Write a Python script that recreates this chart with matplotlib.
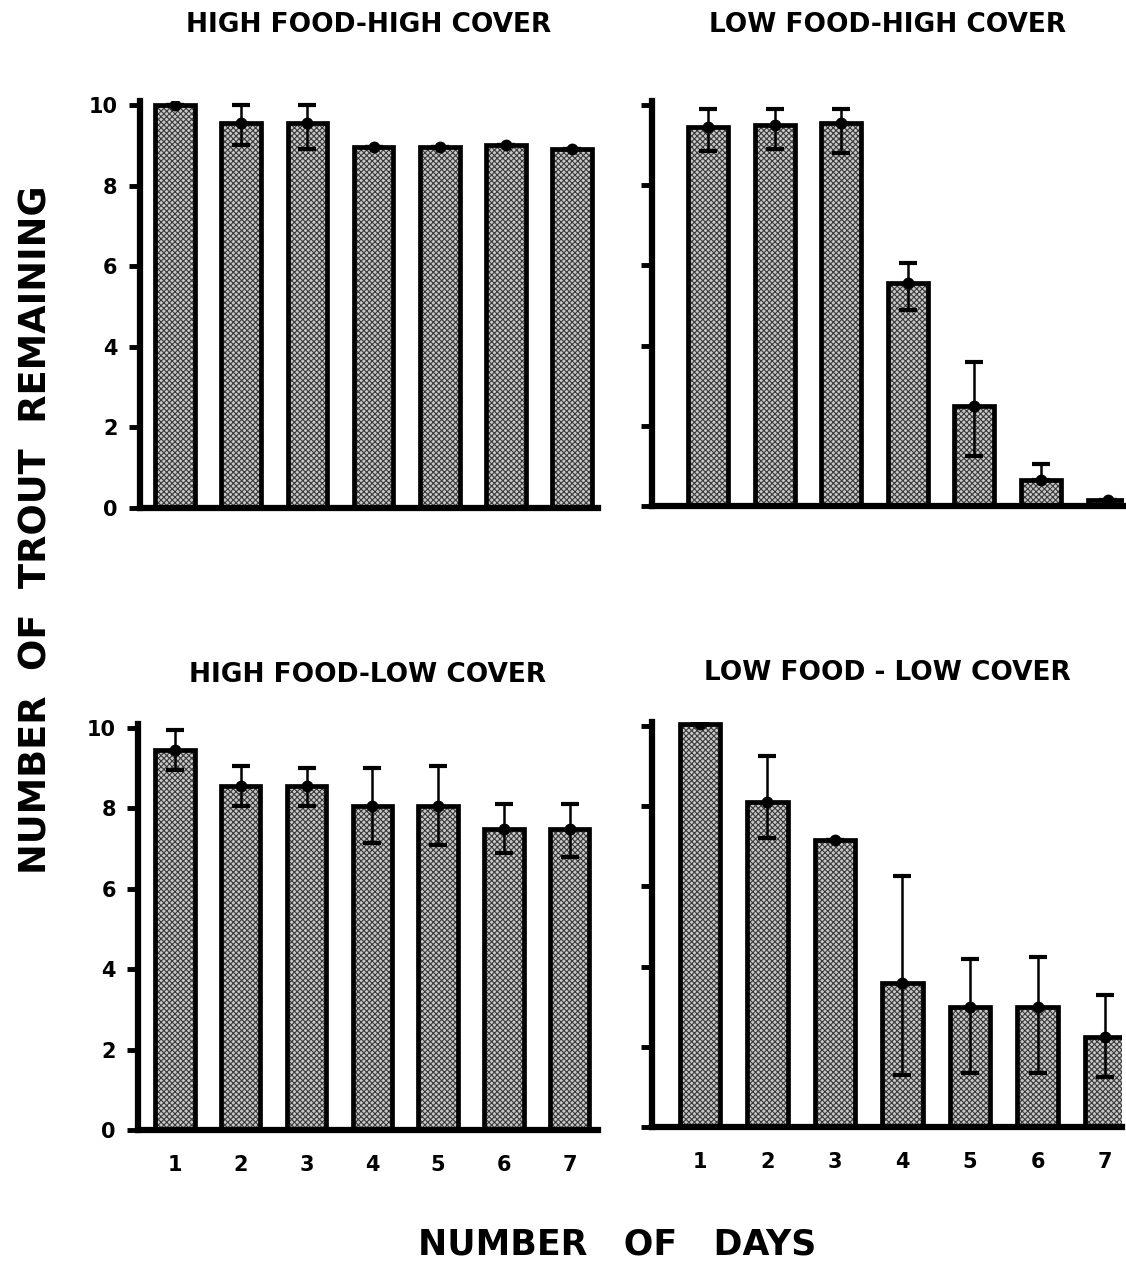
import matplotlib.pyplot as plt
import numpy as np

days = [1, 2, 3, 4, 5, 6, 7]

# mean trout remaining per day
hfhc_mean = [10.0, 9.55, 9.55, 8.95, 8.95, 9.0, 8.9]
hfhc_lo = [0, 0.55, 0.65, 0, 0, 0, 0]
hfhc_hi = [0, 0.45, 0.45, 0, 0, 0, 0]

lfhc_mean = [9.45, 9.5, 9.55, 5.55, 2.5, 0.65, 0.15]
lfhc_lo = [0.6, 0.6, 0.75, 0.65, 1.25, 0, 0]
lfhc_hi = [0.45, 0.4, 0.35, 0.5, 1.1, 0.4, 0]

hflc_mean = [9.45, 8.55, 8.55, 8.05, 8.05, 7.5, 7.5]
hflc_lo = [0.5, 0.5, 0.5, 0.9, 0.95, 0.6, 0.7]
hflc_hi = [0.5, 0.5, 0.45, 0.95, 1.0, 0.6, 0.6]

lflc_mean = [10.05, 8.1, 7.15, 3.6, 3.0, 3.0, 2.25]
lflc_lo = [0, 0.9, 0, 2.3, 1.65, 1.65, 1.0]
lflc_hi = [0, 1.15, 0, 2.65, 1.2, 1.25, 1.05]

titles = ["HIGH FOOD-HIGH COVER", "LOW FOOD-HIGH COVER",
          "HIGH FOOD-LOW COVER", "LOW FOOD - LOW COVER"]
yticks = [0, 2, 4, 6, 8, 10]

plt.rcParams['font.family'] = ['DejaVu Sans']
plt.rcParams['font.weight'] = 'bold'
plt.rcParams['hatch.linewidth'] = 0.8

fig = plt.figure(figsize=(11.26, 12.62), dpi=100)

# axes rectangles and x ranges for the four panels
panels = [
    ([0.1243, 0.5975, 0.4067, 0.3225], (0.47, 7.39), hfhc_mean, hfhc_lo, hfhc_hi, True, False),
    ([0.579, 0.599, 0.419, 0.321], (0.16, 7.24), lfhc_mean, lfhc_lo, lfhc_hi, False, False),
    ([0.1226, 0.1046, 0.4085, 0.3217], (0.44, 7.43), hflc_mean, hflc_lo, hflc_hi, True, True),
    ([0.579, 0.107, 0.4174, 0.321], (0.29, 7.25), lflc_mean, lflc_lo, lflc_hi, False, True),
]

for i, (rect, xl, mean, lo, hi, ylab, xlab) in enumerate(panels):
    ax = fig.add_axes(rect)
    # stippled fill, then a heavy black outline on top
    ax.bar(days, mean, width=0.6, color='#c8c8c8', edgecolor='#3a3a3a',
           hatch='xxxxxx', linewidth=0, zorder=2)
    ax.bar(days, mean, width=0.6, fill=False, edgecolor='black',
           linewidth=3.4, zorder=3)
    ax.errorbar(days, mean, yerr=[lo, hi], fmt='o', color='black',
                markersize=7.5, elinewidth=1.8, capsize=6.5, capthick=3, zorder=4)
    ax.set_xlim(*xl)
    ax.set_ylim(0, 10.1)
    ax.spines['top'].set_visible(False)
    ax.spines['right'].set_visible(False)
    ax.spines['left'].set_linewidth(4.5)
    ax.spines['bottom'].set_linewidth(4.5)
    ax.set_yticks(yticks)
    ax.tick_params(axis='y', direction='out', length=8, width=3.5, pad=8,
                   labelsize=15)
    if not ylab:
        ax.set_yticklabels([])
    ax.set_xticks(days)
    ax.tick_params(axis='x', length=0, pad=18, labelsize=15)
    if not xlab:
        ax.set_xticklabels([])
    ax.set_title(titles[i], fontsize=19, fontweight='bold', pad=50 if i < 2 else 30)

fig.text(0.032, 0.58, "NUMBER  OF  TROUT  REMAINING", rotation=90,
         ha='center', va='center', fontsize=26.5, fontweight='bold')
fig.text(0.548, 0.0135, "NUMBER   OF   DAYS", ha='center', va='center',
         fontsize=25, fontweight='bold')

fig.savefig("out.png", dpi=100)
